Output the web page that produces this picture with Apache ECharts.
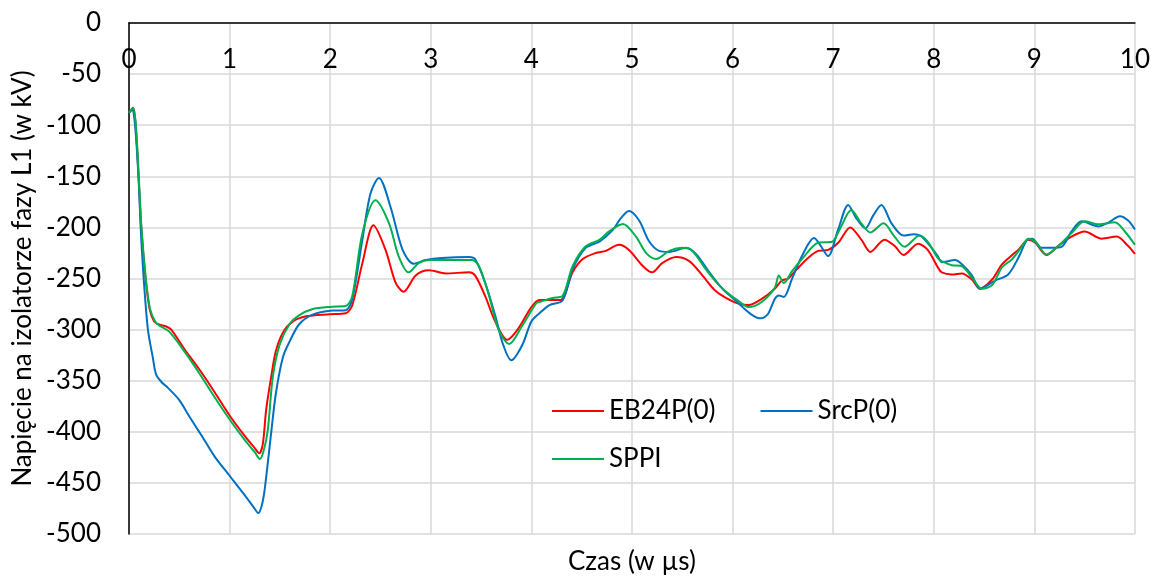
<!DOCTYPE html>
<html>
<head>
<meta charset="utf-8">
<script src="https://cdn.jsdelivr.net/npm/echarts@6/dist/echarts.min.js"></script>
<style>
  html, body { margin: 0; padding: 0; background: #fff; }
  #chart { width: 1153px; height: 580px; }
</style>
</head>
<body>
<div id="chart"></div>
<script>
// nazwy serii
var seriesNames = ['EB24P(0)', 'SrcP(0)', 'SPPI'];

// EB24P(0) - czas (µs) i napięcie (kV)
var ebTime = [0, 0.04, 0.066, 0.095, 0.122, 0.165, 0.205, 0.25, 0.3, 0.37, 0.42, 0.55, 0.7, 0.85, 1.0, 1.15, 1.25, 1.294, 1.33, 1.364, 1.414, 1.46, 1.53, 1.63, 1.76, 1.99, 2.155, 2.22, 2.32, 2.43, 2.55, 2.65, 2.73, 2.85, 2.98, 3.15, 3.38, 3.44, 3.54, 3.64, 3.76, 3.87, 4.0, 4.08, 4.18, 4.29, 4.41, 4.51, 4.64, 4.74, 4.87, 4.97, 5.11, 5.2, 5.3, 5.44, 5.57, 5.7, 5.83, 5.97, 6.07, 6.16, 6.29, 6.42, 6.49, 6.555, 6.62, 6.75, 6.85, 6.95, 7.05, 7.17, 7.28, 7.37, 7.51, 7.61, 7.7, 7.845, 7.94, 8.04, 8.08, 8.18, 8.28, 8.38, 8.46, 8.58, 8.68, 8.78, 8.84, 8.94, 9.01, 9.12, 9.24, 9.37, 9.5, 9.67, 9.82, 9.93, 10.0];
var ebVolt = [-88, -83, -100, -150, -200, -250, -280, -292, -295, -297, -300, -319, -339, -361, -384, -404, -416, -421, -412, -378, -346, -321, -303, -292, -287, -285, -284, -276, -235, -198, -222, -254, -263, -247, -242, -245, -244, -247, -267, -292, -310, -299, -278, -271, -271, -271, -244, -231, -225, -223, -217, -222, -238, -244, -235, -229, -233, -247, -262, -271, -275, -276, -270, -260, -252, -250, -243, -230, -223, -222, -215, -200, -212, -224, -212, -218, -227, -216, -222, -239, -244, -246, -245, -251, -260, -251, -236, -227, -222, -212, -215, -227, -218, -209, -204, -211, -209, -218, -226];

// SrcP(0)
var srcTime = [0, 0.03, 0.06, 0.094, 0.116, 0.146, 0.188, 0.238, 0.27, 0.33, 0.387, 0.5, 0.6, 0.73, 0.85, 1.0, 1.15, 1.24, 1.285, 1.32, 1.35, 1.41, 1.46, 1.53, 1.6, 1.69, 1.82, 2.02, 2.155, 2.22, 2.32, 2.4, 2.485, 2.6, 2.72, 2.83, 2.95, 3.11, 3.38, 3.44, 3.54, 3.64, 3.72, 3.8, 3.91, 4.0, 4.08, 4.18, 4.31, 4.41, 4.54, 4.68, 4.81, 4.89, 4.97, 5.07, 5.17, 5.27, 5.37, 5.54, 5.64, 5.77, 5.9, 6.03, 6.1, 6.2, 6.28, 6.35, 6.42, 6.46, 6.51, 6.59, 6.69, 6.81, 6.87, 6.95, 7.05, 7.15, 7.23, 7.32, 7.4, 7.48, 7.58, 7.7, 7.8, 7.88, 8.04, 8.08, 8.21, 8.28, 8.38, 8.46, 8.61, 8.74, 8.84, 8.93, 8.98, 9.07, 9.17, 9.27, 9.37, 9.47, 9.64, 9.74, 9.85, 9.93, 10.0];
var srcVolt = [-88, -85, -100, -150, -200, -250, -300, -328, -344, -352, -357, -369, -385, -405, -424, -443, -462, -474, -479.5, -472, -455.5, -404, -362.5, -327, -311, -295, -285.6, -281.4, -281, -270, -212, -167, -151.6, -180, -222, -235.5, -232, -230, -229, -231, -254, -286, -315, -330, -315, -292, -284, -276, -271.5, -241, -220, -213.6, -202.4, -191, -184, -193, -213.6, -223, -224, -220, -226.5, -244, -260, -271.5, -278, -286, -289, -285, -270, -266.7, -268, -250.6, -228, -210.4, -217, -228, -202, -178, -191, -201, -188, -178, -196, -208, -206.6, -209, -228, -234, -232, -236, -247, -260, -252, -246, -230, -212, -211, -220, -220, -219, -204, -194, -199, -195, -189, -193, -202];

// SPPI
var sppiTime = [0, 0.04, 0.068, 0.097, 0.124, 0.167, 0.21, 0.26, 0.3, 0.4, 0.57, 0.7, 0.85, 1.0, 1.15, 1.25, 1.3, 1.34, 1.38, 1.43, 1.5, 1.6, 1.69, 1.82, 2.02, 2.155, 2.22, 2.32, 2.45, 2.585, 2.68, 2.78, 2.88, 2.98, 3.21, 3.41, 3.48, 3.58, 3.67, 3.78, 3.91, 4.05, 4.08, 4.21, 4.31, 4.41, 4.54, 4.68, 4.77, 4.91, 5.04, 5.14, 5.24, 5.37, 5.5, 5.6, 5.735, 5.87, 6.0, 6.06, 6.16, 6.29, 6.42, 6.46, 6.51, 6.59, 6.69, 6.85, 6.99, 7.07, 7.18, 7.28, 7.37, 7.5, 7.61, 7.71, 7.86, 7.94, 8.04, 8.08, 8.18, 8.28, 8.38, 8.48, 8.58, 8.68, 8.78, 8.88, 8.94, 9.02, 9.12, 9.24, 9.37, 9.5, 9.64, 9.8, 9.9, 10.0];
var sppiVolt = [-88, -83, -100, -150, -200, -250, -280, -292, -296, -302, -324, -343, -366, -388, -408, -420, -426.6, -418, -398, -346, -314, -294, -286, -280, -277.6, -277, -267, -206, -173.5, -196, -228, -244, -235, -232, -232, -232, -238, -267, -299, -314, -296, -274, -273, -269, -267, -238, -218.5, -212, -204, -196.6, -209, -225, -231, -223, -220, -223, -241, -257, -268, -272, -278, -273, -259, -247, -254.5, -243, -231, -215, -214, -201, -183, -196, -205, -196, -209, -219, -208, -214, -230, -233, -237, -238, -249, -260, -256.5, -239, -231, -218, -211, -215, -226.5, -218, -205.5, -194, -197, -195, -204, -217];

// osie
var xTicks = { min: 0, max: 10, step: 1 };
var yTicks = { min: -500, max: 0, step: 50 };

function zip(t, v) {
  return t.map(function (x, i) { return [x, v[i]]; });
}

var chart = echarts.init(document.getElementById('chart'));
var font = 'Lato';
var fs = 26;

var option = {
  animation: false,
  textStyle: { fontFamily: font },
  grid: { left: 129, right: 17, top: 23, bottom: 37 },
  legend: [
    {
      data: [seriesNames[0], seriesNames[1]],
      left: 547, top: 393,
      icon: 'rect', itemWidth: 52, itemHeight: 2, itemGap: 45,
      textStyle: { fontFamily: font, fontSize: fs, color: '#000' }
    },
    {
      data: [seriesNames[2]],
      left: 547, top: 441,
      icon: 'rect', itemWidth: 52, itemHeight: 2,
      textStyle: { fontFamily: font, fontSize: fs, color: '#000' }
    }
  ],
  xAxis: [
    {
      type: 'value', position: 'top',
      min: xTicks.min, max: xTicks.max, interval: xTicks.step,
      axisLine: { show: true, lineStyle: { color: '#000', width: 1.5 } },
      axisTick: { show: false },
      axisLabel: { inside: true, margin: 24, fontSize: fs, color: '#000', fontFamily: font },
      splitLine: { show: true, lineStyle: { color: '#d9d9d9', width: 1.5 } }
    },
    {
      type: 'value', position: 'bottom',
      min: xTicks.min, max: xTicks.max,
      name: 'Czas (w µs)', nameLocation: 'middle', nameGap: 15,
      nameTextStyle: { fontSize: fs, color: '#000', fontFamily: font },
      axisLine: { show: false }, axisTick: { show: false },
      axisLabel: { show: false }, splitLine: { show: false }
    }
  ],
  yAxis: {
    type: 'value',
    min: yTicks.min, max: yTicks.max, interval: yTicks.step,
    name: 'Napięcie na izolatorze fazy L1 (w kV)', nameLocation: 'middle', nameGap: 90,
    nameTextStyle: { fontSize: fs, color: '#000', fontFamily: font },
    axisLine: { show: true, lineStyle: { color: '#000', width: 1.5 } },
    axisTick: { show: false },
    axisLabel: { margin: 28, fontSize: fs, color: '#000', fontFamily: font },
    splitLine: { show: true, lineStyle: { color: '#d9d9d9', width: 1.5 } }
  },
  series: [
    {
      name: seriesNames[0], type: 'line', data: zip(ebTime, ebVolt),
      smooth: 0.3, symbol: 'none', color: '#ff0000',
      lineStyle: { width: 2, color: '#ff0000' }
    },
    {
      name: seriesNames[1], type: 'line', data: zip(srcTime, srcVolt),
      smooth: 0.3, symbol: 'none', color: '#0070c0',
      lineStyle: { width: 2, color: '#0070c0' }
    },
    {
      name: seriesNames[2], type: 'line', data: zip(sppiTime, sppiVolt),
      smooth: 0.3, symbol: 'none', color: '#00b050',
      lineStyle: { width: 2, color: '#00b050' }
    }
  ]
};

chart.setOption(option);
</script>
</body>
</html>
